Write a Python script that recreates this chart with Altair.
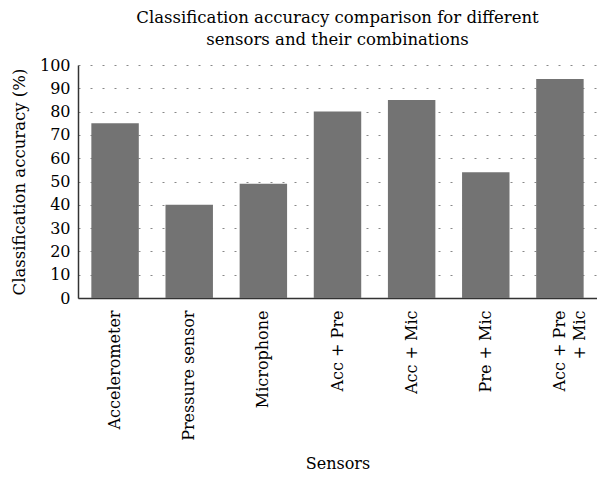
import altair as alt
import pandas as pd

categories = ["Accelerometer", "Pressure sensor", "Microphone", "Acc + Pre",
              "Acc + Mic", "Pre + Mic", "Acc + Pre + Mic"]
accuracy = [75, 40, 49, 80, 85, 54, 94]

df = pd.DataFrame({"Sensor": categories, "Accuracy": accuracy})

FONT = "DejaVu Serif"

chart = alt.Chart(df).mark_bar(color="#737373").encode(
    x=alt.X("Sensor:N", sort=categories,
            scale=alt.Scale(paddingInner=0.36, paddingOuter=0.18),
            axis=alt.Axis(title="Sensors", labelAngle=-90, labelAlign="right",
                          labelBaseline="middle", ticks=False, labelPadding=12,
                          labelFontSize=16, titleFontSize=16, titlePadding=15,
                          titleFontWeight="normal", domainColor="#333333",
                          domainWidth=1.5, labelColor="#000", titleColor="#000",
                          labelLineHeight=20,
                          labelExpr="datum.value == 'Acc + Pre + Mic' ? ['Acc + Pre', '+ Mic'] : datum.value")),
    y=alt.Y("Accuracy:Q",
            scale=alt.Scale(domain=[0, 100], nice=False),
            axis=alt.Axis(title="Classification accuracy (%)", values=list(range(0, 101, 10)),
                          ticks=False, labelPadding=8, labelFontSize=16, titleFontSize=16.5,
                          titleFontWeight="normal", titlePadding=12,
                          domainColor="#333333", domainWidth=1.5, grid=True,
                          gridDash=[2, 10], gridColor="#888888", gridWidth=1,
                          labelColor="#000", titleColor="#000")),
).properties(
    width=519, height=233,
    title=alt.TitleParams(
        text=["Classification accuracy comparison for different",
              "sensors and their combinations"],
        fontSize=16.5, font=FONT, fontWeight="normal", anchor="middle",
        color="#000", lineHeight=22, offset=9),
    autosize=alt.AutoSizeParams(type="none"),
    padding={"left": 70, "top": 57, "right": 0, "bottom": 180},
).configure(font=FONT).configure_view(stroke=None).configure_axis(
    labelFont=FONT, titleFont=FONT)

chart.save("out.html", embed_options={"renderer": "svg", "actions": False})
